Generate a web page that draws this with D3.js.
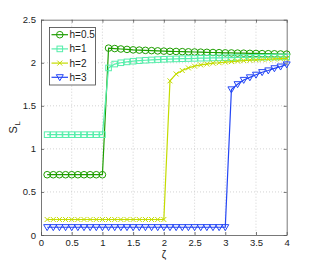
<!DOCTYPE html>
<html><head><meta charset="utf-8">
<script src="https://cdn.jsdelivr.net/npm/d3@7"></script>
<style>body{margin:0;background:#fff}svg{display:block}text{font-family:"Liberation Sans",Arial,sans-serif}</style>
</head><body><svg id="c" width="316" height="265"></svg>
<script>
const xLow05 = [0.1,0.2,0.3,0.4,0.5,0.6,0.7,0.8,0.9,1.0];
const xHigh05 = [1.1,1.2,1.3,1.4,1.5,1.6,1.7,1.8,1.9,2.0,2.1,2.2,2.3,2.4,2.5,2.6,2.7,2.8,2.9,3.0,3.1,3.2,3.3,3.4,3.5,3.6,3.7,3.8,3.9,4.0];
const xLow2 = [0.1,0.2,0.3,0.4,0.5,0.6,0.7,0.8,0.9,1.0,1.1,1.2,1.3,1.4,1.5,1.6,1.7,1.8,1.9,2.0];
const xHigh2 = [2.1,2.2,2.3,2.4,2.5,2.6,2.7,2.8,2.9,3.0,3.1,3.2,3.3,3.4,3.5,3.6,3.7,3.8,3.9,4.0];
const xLow3 = [0.1,0.2,0.3,0.4,0.5,0.6,0.7,0.8,0.9,1.0,1.1,1.2,1.3,1.4,1.5,1.6,1.7,1.8,1.9,2.0,2.1,2.2,2.3,2.4,2.5,2.6,2.7,2.8,2.9,3.0];
const xHigh3 = [3.1,3.2,3.3,3.4,3.5,3.6,3.7,3.8,3.9,4.0];

const yLow05 = [0.7,0.7,0.7,0.7,0.7,0.7,0.7,0.7,0.7,0.7];
const yHigh05 = [2.17,2.165,2.16,2.155,2.15,2.147,2.144,2.141,2.138,2.135,2.133,2.131,2.129,2.127,2.125,2.123,2.121,2.119,2.117,2.115,2.114,2.112,2.111,2.109,2.108,2.106,2.105,2.104,2.102,2.10];
const yLow1 = [1.165,1.165,1.165,1.165,1.165,1.165,1.165,1.165,1.165,1.165];
const yHigh1 = [1.94,1.985,2.0,2.01,2.018,2.024,2.029,2.033,2.037,2.04,2.043,2.045,2.047,2.049,2.051,2.053,2.054,2.056,2.057,2.058,2.06,2.061,2.062,2.063,2.064,2.065,2.066,2.067,2.068,2.069];
const yLow2 = [0.18,0.18,0.18,0.18,0.18,0.18,0.18,0.18,0.18,0.18,0.18,0.18,0.18,0.18,0.18,0.18,0.18,0.18,0.18,0.18];
const yHigh2 = [1.79,1.87,1.91,1.94,1.96,1.975,1.985,1.995,2.0,2.008,2.014,2.02,2.025,2.03,2.034,2.038,2.041,2.044,2.047,2.05];
const yLow3 = [0.09,0.09,0.09,0.09,0.09,0.09,0.09,0.09,0.09,0.09,0.09,0.09,0.09,0.09,0.09,0.09,0.09,0.09,0.09,0.09,0.09,0.09,0.09,0.09,0.09,0.09,0.09,0.09,0.09,0.09];
const yHigh3 = [1.69,1.75,1.80,1.83,1.86,1.89,1.91,1.935,1.955,1.98];

const seriesNames = ["h=0.5","h=1","h=2","h=3"];
const xTicks = [0,0.5,1,1.5,2,2.5,3,3.5,4];
const yTicks = [0,0.5,1,1.5,2,2.5];

const colors = ["#1e9e00","#55eeaa","#c4dc00","#2446f5"];
const markers = ["circle","square","cross","tri"];
const series = [
  {x: xLow05.concat(xHigh05), y: yLow05.concat(yHigh05)},
  {x: xLow05.concat(xHigh05), y: yLow1.concat(yHigh1)},
  {x: xLow2.concat(xHigh2), y: yLow2.concat(yHigh2)},
  {x: xLow3.concat(xHigh3), y: yLow3.concat(yHigh3)}
];

const svg = d3.select("#c");
const L=41, R=286.7, T=19.7, B=235;
const x = d3.scaleLinear().domain([0,4]).range([L,R]);
const y = d3.scaleLinear().domain([0,2.5]).range([B,T]);

// grid
const g = svg.append("g");
g.selectAll(".gx").data(xTicks.slice(1,-1)).enter().append("line")
 .attr("x1",d=>x(d)).attr("x2",d=>x(d)).attr("y1",T).attr("y2",B)
 .attr("stroke","#c8c8c8").attr("stroke-width",0.8).attr("stroke-dasharray","1,2");
g.selectAll(".gy").data(yTicks.slice(1,-1)).enter().append("line")
 .attr("y1",d=>y(d)).attr("y2",d=>y(d)).attr("x1",L).attr("x2",R)
 .attr("stroke","#c8c8c8").attr("stroke-width",0.8).attr("stroke-dasharray","1,2");

// axes
const fmt = d=>d3.format("")(d);
const ax = svg.append("g").attr("transform",`translate(0,${B})`)
 .call(d3.axisBottom(x).tickValues(xTicks).tickFormat(fmt).tickSizeInner(-3).tickSizeOuter(0).tickPadding(4));
const ay = svg.append("g").attr("transform",`translate(${L},0)`)
 .call(d3.axisLeft(y).tickValues(yTicks).tickFormat(fmt).tickSizeInner(-3).tickSizeOuter(0).tickPadding(5));
const axT = svg.append("g").attr("transform",`translate(0,${T})`)
 .call(d3.axisTop(x).tickValues(xTicks).tickFormat("").tickSizeInner(-3).tickSizeOuter(0));
const ayR = svg.append("g").attr("transform",`translate(${R},0)`)
 .call(d3.axisRight(y).tickValues(yTicks).tickFormat("").tickSizeInner(-3).tickSizeOuter(0));
[ax,ay,axT,ayR].forEach(a=>{
  a.selectAll("path").attr("stroke","#555").attr("stroke-width",0.8);
  a.selectAll("line").attr("stroke","#555").attr("stroke-width",0.8);
  a.selectAll("text").attr("fill","#222").style("font-size","9.5px").style("font-family","'Liberation Sans',Arial,sans-serif");
});

// labels
svg.append("text").attr("x",x(2)).attr("y",258).attr("text-anchor","middle")
 .style("font-size","10px").attr("fill","#222").text("ζ");
const yl = svg.append("text").attr("transform",`translate(17,${y(1.25)}) rotate(-90)`).attr("text-anchor","middle")
 .style("font-size","11px").attr("fill","#222");
yl.append("tspan").text("S");
yl.append("tspan").attr("dy",2.5).attr("dx",0.5).style("font-size","8px").text("L");

function drawMarker(sel, type, color){
  if(type==="circle"){
    sel.append("circle").attr("r",3.3).attr("fill","none").attr("stroke",color).attr("stroke-width",1);
  } else if(type==="square"){
    sel.append("rect").attr("x",-2.8).attr("y",-2.8).attr("width",5.6).attr("height",5.6).attr("fill","none").attr("stroke",color).attr("stroke-width",1);
  } else if(type==="cross"){
    sel.append("path").attr("d","M-2.5,-2.5L2.5,2.5M-2.5,2.5L2.5,-2.5").attr("stroke",color).attr("stroke-width",1);
  } else {
    sel.append("path").attr("d","M-3.5,-2.6L3.5,-2.6L0,3.4Z").attr("fill","none").attr("stroke",color).attr("stroke-width",1);
  }
}

const line = d3.line().x(d=>x(d[0])).y(d=>y(d[1]));
const plot = svg.append("g");
series.forEach((s,i)=>{
  const pts = s.x.map((v,j)=>[v,s.y[j]]);
  plot.append("path").datum(pts).attr("d",line).attr("fill","none").attr("stroke",colors[i]).attr("stroke-width",1.2);
  plot.selectAll(".m"+i).data(pts).enter().append("g")
   .attr("transform",d=>`translate(${x(d[0])},${y(d[1])})`)
   .each(function(){ drawMarker(d3.select(this), markers[i], colors[i]); });
});

// legend
const lg = svg.append("g");
lg.append("rect").attr("x",49.5).attr("y",27.5).attr("width",46).attr("height",57.5)
 .attr("fill","#fff").attr("stroke","#444").attr("stroke-width",0.8);
seriesNames.forEach((n,i)=>{
  const yy = 34.7 + i*14.2;
  lg.append("line").attr("x1",51.5).attr("x2",68).attr("y1",yy).attr("y2",yy).attr("stroke",colors[i]).attr("stroke-width",1.2);
  drawMarker(lg.append("g").attr("transform",`translate(59.8,${yy})`), markers[i], colors[i]);
  lg.append("text").attr("x",69.5).attr("y",yy+3.5).style("font-size","10px").attr("fill","#222").text(n);
});
</script></body></html>
